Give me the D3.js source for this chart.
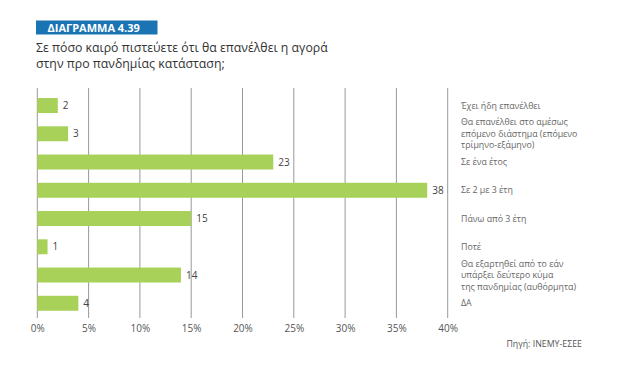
<!DOCTYPE html>
<html><head><meta charset="utf-8">
<script src="https://cdn.jsdelivr.net/npm/d3@7"></script>
<style>body{margin:0;background:#fff;font-family:"Open Sans",sans-serif;}</style>
</head><body>
<svg id="chart" width="627" height="365"></svg>
<script>
const categories = [
  ["Έχει ήδη επανέλθει"],
  ["Θα επανέλθει στο αμέσως","επόμενο διάστημα (επόμενο","τρίμηνο-εξάμηνο)"],
  ["Σε ένα έτος"],
  ["Σε 2 με 3 έτη"],
  ["Πάνω από 3 έτη"],
  ["Ποτέ"],
  ["Θα εξαρτηθεί από το εάν","υπάρξει δεύτερο κύμα","της πανδημίας (αυθόρμητα)"],
  ["ΔΑ"]
];
const values = [2, 3, 23, 38, 15, 1, 14, 4];
const tickValues = [0, 5, 10, 15, 20, 25, 30, 35, 40];
const titleBox = "ΔΙΑΓΡΑΜΜΑ 4.39";
const subtitle = ["Σε πόσο καιρό πιστεύετε ότι θα επανέλθει η αγορά", "στην προ πανδημίας κατάσταση;"];
const source = "Πηγή: INEMY-ΕΣΕΕ";

const svg = d3.select("#chart");
const x = d3.scaleLinear().domain([0, 40]).range([37.3, 447.7]);
const idx = d3.range(values.length);
const y = d3.scaleBand().domain(idx).range([91.4, 317.4]).paddingInner(0.47).paddingOuter(0.235);

// header
svg.append("rect").attr("x", 36).attr("y", 20.5).attr("width", 121.5).attr("height", 14).attr("fill", "#1a74b4");
svg.append("text").attr("x", 47.5).attr("y", 31.6).attr("fill", "#fff")
  .attr("font-size", 11).attr("font-weight", "bold").text(titleBox);
const st = svg.append("text").attr("fill", "#333").attr("font-size", 12.3);
subtitle.forEach((s, i) => st.append("tspan").attr("x", 36).attr("y", 52.4 + i * 15.4).text(s));

// grid
const gy0 = 88, gy1 = 318;
svg.append("g").selectAll("line").data(tickValues).join("line")
  .attr("x1", d => x(d)).attr("x2", d => x(d)).attr("y1", gy0).attr("y2", gy1)
  .attr("stroke", "#999").attr("stroke-width", 1);

// x axis labels
const axis = d3.axisBottom(x).tickValues(tickValues).tickFormat(d => d + "%").tickSize(0).tickPadding(0);
const ax = svg.append("g").attr("transform", `translate(0,${gy1 + 7})`).call(axis);
ax.select(".domain").remove();
ax.selectAll("text").attr("fill", "#555").attr("font-size", 10).attr("font-family", "Open Sans, sans-serif");

// bars
svg.append("g").selectAll("rect").data(values).join("rect")
  .attr("x", x(0)).attr("y", (d, i) => y(i)).attr("width", d => x(d) - x(0)).attr("height", y.bandwidth())
  .attr("fill", "#a8d15a");

// value labels
svg.append("g").selectAll("text").data(values).join("text")
  .attr("x", d => x(d) + 5).attr("y", (d, i) => y(i) + y.bandwidth() / 2).attr("dy", "0.35em")
  .attr("fill", "#444").attr("font-size", 10).text(d => d);

// category labels on right
const lh = 11.5;
const cg = svg.append("g");
categories.forEach((lines, i) => {
  const cy = y(i) + y.bandwidth() / 2;
  const t = cg.append("text").attr("fill", "#666").attr("font-size", 8.8);
  lines.forEach((ln, j) => {
    t.append("tspan").attr("x", 461)
      .attr("y", cy + (j - (lines.length - 1) / 2) * lh).attr("dy", "0.35em").text(ln);
  });
});

// source
svg.append("text").attr("x", 582).attr("y", 344).attr("dy", "0.35em").attr("text-anchor", "end")
  .attr("fill", "#555").attr("font-size", 8.8).text(source);
</script>
</body></html>
